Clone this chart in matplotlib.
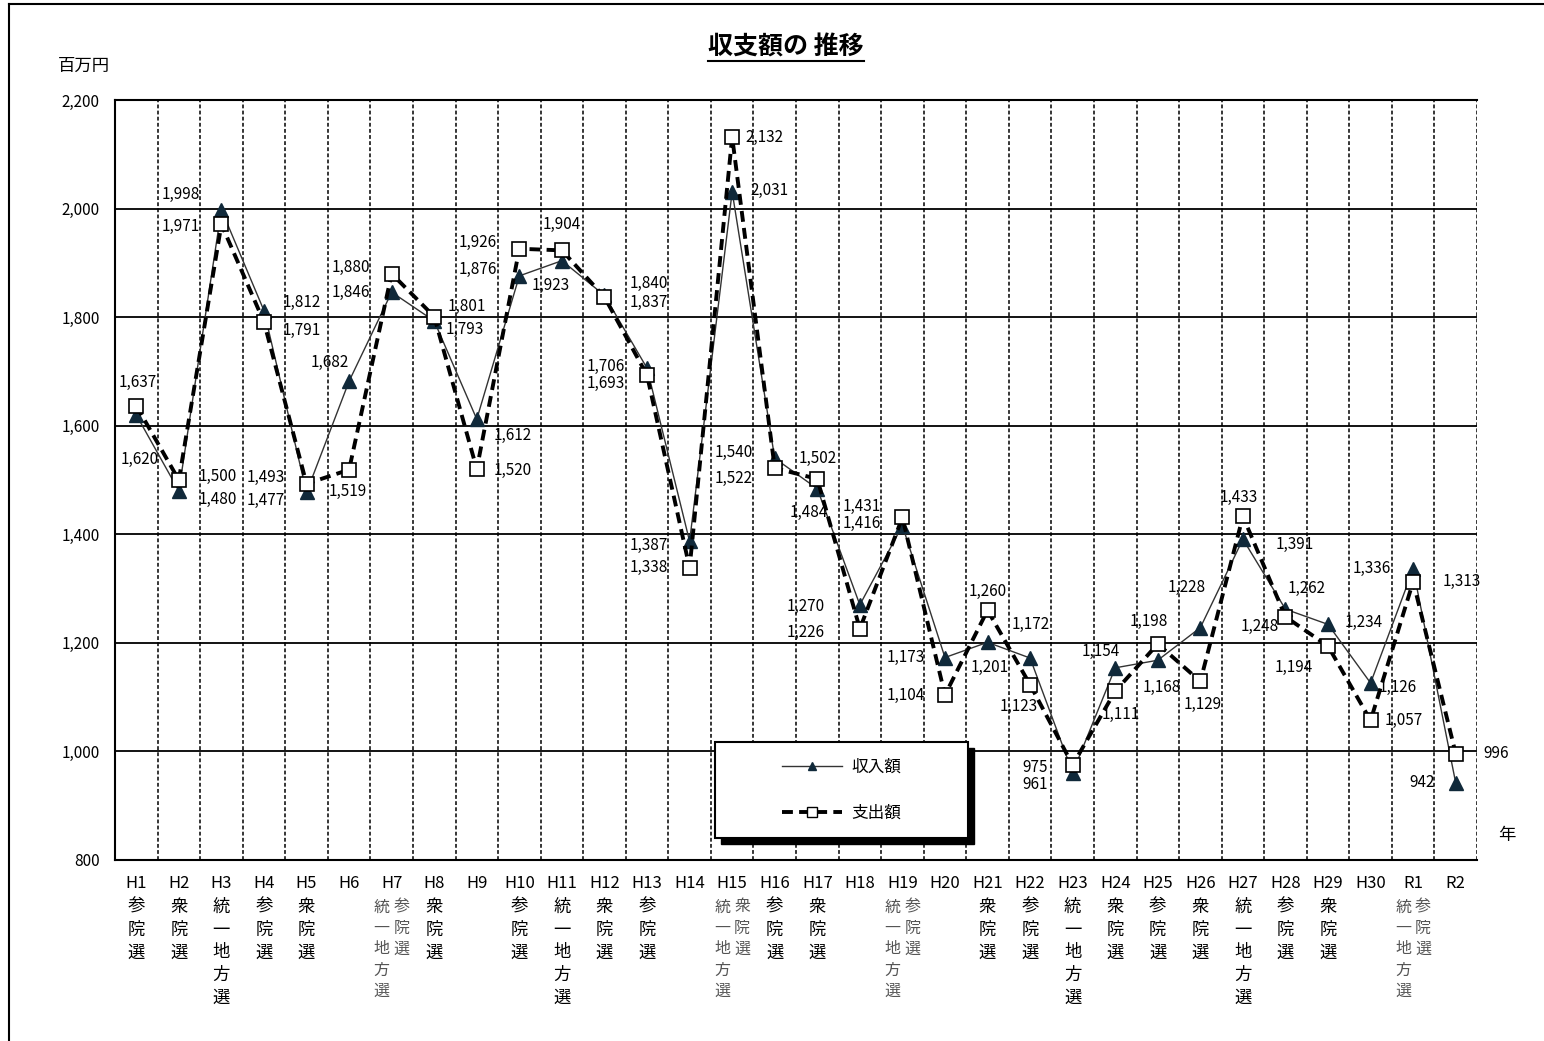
import matplotlib
matplotlib.use("Agg")
import matplotlib.pyplot as plt
import matplotlib.transforms as mtransforms
from matplotlib.lines import Line2D
from matplotlib.patches import Rectangle

plt.rcParams['font.family'] = ['Noto Sans CJK JP', 'DejaVu Sans']

# ---- data (百万円) ----
years = ['H1', 'H2', 'H3', 'H4', 'H5', 'H6', 'H7', 'H8', 'H9', 'H10',
         'H11', 'H12', 'H13', 'H14', 'H15', 'H16', 'H17', 'H18', 'H19', 'H20',
         'H21', 'H22', 'H23', 'H24', 'H25', 'H26', 'H27', 'H28', 'H29', 'H30',
         'R1', 'R2']
elections = [['参院選'], ['衆院選'], ['統一地方選'], ['参院選'], ['衆院選'], [],
             ['統一地方選', '参院選'], ['衆院選'], [], ['参院選'],
             ['統一地方選'], ['衆院選'], ['参院選'], [], ['統一地方選', '衆院選'],
             ['参院選'], ['衆院選'], [], ['統一地方選', '参院選'], [],
             ['衆院選'], ['参院選'], ['統一地方選'], ['衆院選'], ['参院選'],
             ['衆院選'], ['統一地方選'], ['参院選'], ['衆院選'], [],
             ['統一地方選', '参院選'], []]
income = [1620, 1480, 1998, 1812, 1477, 1682, 1846, 1793, 1612, 1876,
          1904, 1840, 1706, 1387, 2031, 1540, 1484, 1270, 1416, 1173,
          1201, 1172, 961, 1154, 1168, 1228, 1391, 1262, 1234, 1126,
          1336, 942]
expense = [1637, 1500, 1971, 1791, 1493, 1519, 1880, 1801, 1520, 1926,
           1923, 1837, 1693, 1338, 2132, 1522, 1502, 1226, 1431, 1104,
           1260, 1123, 975, 1111, 1198, 1129, 1433, 1248, 1194, 1057,
           1313, 996]

# label offsets (pixels) of the data labels, hand placed like the original
inc_off = [(3, -45), (39, -9), (-41, 15), (38, 8), (-41, -8), (-19, 19), (-41, 0),
           (31, -9), (36, -16), (-42, 6), (0, 36), (44, 12), (-41, 2), (-41, -4),
           (37, 1), (-41, 6), (-8, -24), (-54, -2), (-41, 2), (-39, 0), (2, -25),
           (1, 34), (-38, -12), (-14, 16), (4, -27), (-14, 40), (52, -5), (21, 21),
           (36, 2), (27, -4), (-41, 1), (-34, 0)]
exp_off = [(1, 23), (39, 4), (-41, -2), (38, -8), (-41, 6), (-1, -22), (-41, 6),
           (33, 10), (36, -1), (-42, 6), (-11, -35), (44, -5), (-41, -8), (-41, 0),
           (32, -1), (-41, -10), (0, 20), (-54, -4), (-41, 11), (-39, 0), (0, 19),
           (-11, -22), (-38, -2), (6, -23), (-9, 22), (2, -23), (-4, 19), (-26, -10),
           (-34, -21), (33, 0), (49, 0), (40, 0)]

W, H = 1544, 1041
fig = plt.figure(figsize=(W / 100, H / 100), dpi=100)
ax = fig.add_axes([115 / W, 1 - 860 / H, (1477 - 115) / W, 760 / H])

x = list(range(len(years)))
navy = '#10293a'

ax.plot(x, income, color='#333333', lw=1.0, marker='^', markersize=10,
        markerfacecolor=navy, markeredgecolor=navy, zorder=3)
ax.plot(x, expense, color='black', lw=2.8, linestyle=(0, (2.8, 1.6)), marker='s',
        markersize=10, markerfacecolor='white', markeredgecolor='black',
        markeredgewidth=1.2, zorder=4)

for i in x:
    ax.annotate(f'{income[i]:,}', (i, income[i]), xytext=inc_off[i],
                textcoords='offset pixels', ha='center', va='center',
                fontsize=11, zorder=5)
    ax.annotate(f'{expense[i]:,}', (i, expense[i]), xytext=exp_off[i],
                textcoords='offset pixels', ha='center', va='center',
                fontsize=11, zorder=5)

ax.set_xlim(-0.5, len(years) - 0.5)
ax.set_ylim(800, 2200)
ax.set_yticks(range(800, 2201, 200))
ax.set_yticklabels([f'{v:,}' for v in range(800, 2201, 200)], fontsize=11)
ax.tick_params(axis='y', length=0, pad=11)
ax.set_xticks([])

for v in range(1000, 2200, 200):
    ax.axhline(v, color='black', lw=1.3, zorder=1)
for i in range(len(years)):
    ax.axvline(i + 0.5, color='black', lw=1.1, linestyle=(0, (2.5, 1.5)), zorder=1)

for s in ['left', 'top', 'bottom']:
    ax.spines[s].set_linewidth(1.5)
ax.spines['right'].set_visible(False)

# category labels under the axis
for i in x:
    ax.annotate(years[i], (i, 0), xycoords=('data', 'axes fraction'),
                xytext=(0, -24), textcoords='offset pixels', ha='center',
                va='center', fontsize=12)
    cols = elections[i]
    if len(cols) == 1:
        for k, ch in enumerate(cols[0]):
            ax.annotate(ch, (i, 0), xycoords=('data', 'axes fraction'),
                        xytext=(0, -47 - 22.7 * k), textcoords='offset pixels',
                        ha='center', va='center', fontsize=12.5)
    elif len(cols) == 2:
        for c, dx in zip(cols, (-10, 10)):
            for k, ch in enumerate(c):
                ax.annotate(ch, (i, 0), xycoords=('data', 'axes fraction'),
                            xytext=(dx, -47 - 21 * k), textcoords='offset pixels',
                            ha='center', va='center', fontsize=11.5, color='#555555')

# legend with black shadow box
bx0, bx1 = (715 - 115) / 1362, (968 - 115) / 1362
by0, by1 = (860 - 838) / 760, (860 - 742) / 760
shadow_tr = mtransforms.offset_copy(ax.transAxes, fig=fig, x=6, y=-6, units='dots')
ax.add_patch(Rectangle((bx0, by0), bx1 - bx0, by1 - by0, transform=shadow_tr,
                       facecolor='black', edgecolor='black', zorder=6, clip_on=False))
ax.add_patch(Rectangle((bx0, by0), bx1 - bx0, by1 - by0, transform=ax.transAxes,
                       facecolor='white', edgecolor='black', lw=1.5, zorder=6.5,
                       clip_on=False))
handles = [Line2D([], [], color='#333333', lw=1.0, marker='^', markersize=6,
                  markerfacecolor=navy, markeredgecolor=navy),
           Line2D([], [], color='black', lw=2.8, linestyle=(0, (2.8, 1.6)), marker='s',
                  markersize=7, markerfacecolor='white', markeredgecolor='black')]
leg = ax.legend(handles, ['収入額', '支出額'], loc='center',
                bbox_to_anchor=((bx0 + bx1) / 2, (by0 + by1) / 2),
                bbox_transform=ax.transAxes, frameon=False, fontsize=12,
                handlelength=3.6, handletextpad=0.6, labelspacing=1.75)
leg.set_zorder(7)

# texts around
title = fig.text(786 / W, 1 - 47 / H, '収支額の 推移', ha='center', va='center',
                 fontsize=18, fontweight='bold')
fig.text(84 / W, 1 - 66 / H, '百万円', ha='center', va='center', fontsize=12.5)
fig.text(1507 / W, 1 - 835 / H, '年', ha='center', va='center', fontsize=12.5)

fig.canvas.draw()
bb = title.get_window_extent().transformed(fig.transFigure.inverted())
fig.add_artist(Line2D([bb.x0, bb.x1], [bb.y0 - 0.002, bb.y0 - 0.002],
                      transform=fig.transFigure, color='black', lw=1.5))

# outer frame (top and left edges visible)
fig.add_artist(Line2D([9 / W, 1], [1 - 4 / H, 1 - 4 / H], transform=fig.transFigure,
                      color='black', lw=1.5))
fig.add_artist(Line2D([9 / W, 9 / W], [0, 1 - 4 / H], transform=fig.transFigure,
                      color='black', lw=1.5))

fig.savefig('out.png', dpi=100)
